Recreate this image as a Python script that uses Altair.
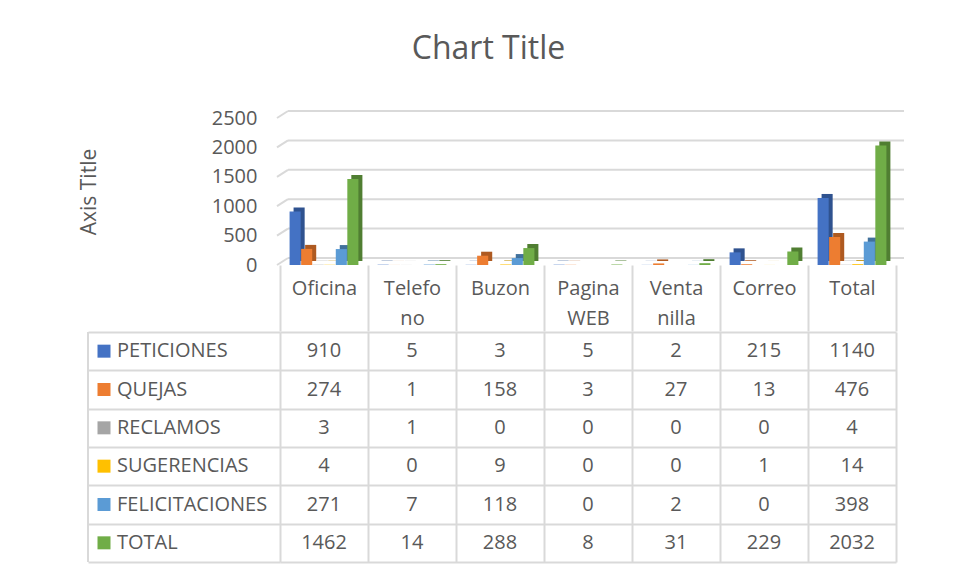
import altair as alt
import pandas as pd

categories = ["Oficina", "Telefo\nno", "Buzon", "Pagina\nWEB", "Venta\nnilla", "Correo", "Total"]
series = ["PETICIONES", "QUEJAS", "RECLAMOS", "SUGERENCIAS", "FELICITACIONES", "TOTAL"]
colors = ["#4472C4", "#ED7D31", "#A5A5A5", "#FFC000", "#5B9BD5", "#70AD47"]
side_colors = ["#2F528F", "#AE5A21", "#787878", "#BC8C00", "#41719C", "#507E32"]

peticiones = [910, 5, 3, 5, 2, 215, 1140]
quejas = [274, 1, 158, 3, 27, 13, 476]
reclamos = [3, 1, 0, 0, 0, 0, 4]
sugerencias = [4, 0, 9, 0, 0, 1, 14]
felicitaciones = [271, 7, 118, 0, 2, 0, 398]
total = [1462, 14, 288, 8, 31, 229, 2032]
y_ticks = [0, 500, 1000, 1500, 2000, 2500]

values = [peticiones, quejas, reclamos, sugerencias, felicitaciones, total]
rows = []
for s, vals in zip(series, values):
    for c, v in zip(categories, vals):
        rows.append({"series": s, "category": c, "value": v})
df = pd.DataFrame(rows)
grid_df = pd.DataFrame({"value": y_ticks})
hdr_df = pd.DataFrame({"series": series})

GRAY = "#595959"
LINE = "#d9d9d9"
W, H = 616, 147
TH = 230

xenc = alt.X(
    "category:N", sort=categories,
    scale=alt.Scale(paddingInner=0, paddingOuter=0),
    axis=alt.Axis(title=None, labelExpr="split(datum.label, '\\n')", labelAngle=0,
                  labelFontSize=20, labelColor=GRAY, labelLineHeight=30, labelPadding=-53,
                  tickBand="extent", tickSize=66, tickColor=LINE, tickWidth=2,
                  domain=False, grid=False),
)
xoff = alt.XOffset("series:N", sort=series,
                   scale=alt.Scale(paddingInner=0.04, paddingOuter=0.83))
xoff_side = alt.XOffset("series:N", sort=series,
                        scale=alt.Scale(paddingInner=0.04, paddingOuter=0.83, align=0.708))
yscale = alt.Scale(domain=[0, 2500])
yenc = alt.Y(
    "value:Q", scale=yscale,
    axis=alt.Axis(values=y_ticks, format="d", grid=False, ticks=False, tickSize=0, domain=False,
                  labelPadding=23, labelFontSize=20, labelColor=GRAY,
                  title="Axis Title", titleFontSize=21, titleFontWeight="normal",
                  titleColor=GRAY, titleX=-191, titleY=73.5, titleAngle=270,
                  titleAlign="center", titleBaseline="middle"),
)

back = alt.Chart(grid_df).mark_rule(color=LINE, strokeWidth=2, yOffset=-7, y2Offset=-7).encode(
    y=yenc, x=alt.value(8), x2=alt.value(W + 8)
)
slant = alt.Chart(grid_df).mark_rule(color=LINE, strokeWidth=2, yOffset=0, y2Offset=-7).encode(
    y=yenc, y2=alt.Y2("value:Q"), x=alt.value(-3), x2=alt.value(8)
)

shadow = alt.Chart(df).mark_bar(yOffset=-4, y2Offset=0).encode(
    x=xenc, xOffset=xoff_side, y=yenc,
    color=alt.Color("series:N", scale=alt.Scale(domain=series, range=side_colors), legend=None)
)
front = alt.Chart(df).mark_bar().encode(
    x=xenc, xOffset=xoff, y=yenc,
    color=alt.Color("series:N", scale=alt.Scale(domain=series, range=colors), legend=None)
)

bars = alt.layer(back, slant, shadow, front).resolve_scale(
    color="independent", xOffset="independent"
).properties(width=W, height=H)

tx = alt.X("category:N", sort=categories, scale=alt.Scale(paddingInner=0, paddingOuter=0),
           axis=alt.Axis(orient="top", title=None, labels=False, ticks=False, domain=False,
                         grid=True, gridColor=LINE, gridWidth=2, tickBand="extent"))
ty = alt.Y("series:N", sort=series, scale=alt.Scale(paddingInner=0, paddingOuter=0),
           axis=alt.Axis(title=None, labels=False, ticks=True, tickSize=192, tickColor=LINE,
                         tickWidth=2, domain=False, grid=True, gridColor=LINE, gridWidth=2,
                         tickBand="extent"))

cells = alt.Chart(df).mark_text(fontSize=20, color=GRAY).encode(
    x=tx, y=ty, text=alt.Text("value:Q", format="d")
)
keys = alt.Chart(hdr_df).mark_square(size=169, opacity=1, filled=True).encode(
    x=alt.value(-176), y=ty,
    color=alt.Color("series:N", scale=alt.Scale(domain=series, range=colors), legend=None)
)
names = alt.Chart(hdr_df).mark_text(align="left", fontSize=20, color=GRAY).encode(
    x=alt.value(-163), y=ty, text="series:N"
)
border = alt.Chart(hdr_df.head(1)).mark_rule(color=LINE, strokeWidth=2).encode(
    x=alt.value(-192), y=alt.value(0), y2=alt.value(TH)
)
table = alt.layer(cells, keys, names, border).properties(width=W, height=TH)

chart = alt.vconcat(bars, table, spacing=-7).properties(
    title=alt.TitleParams("Chart Title", fontSize=32, color=GRAY, fontWeight="normal",
                          anchor="middle", offset=42, dx=-3),
    padding={"left": 70, "top": 25, "right": 5, "bottom": 5},
).configure(font="Open Sans").configure_view(stroke=None)

chart.save("out.html", embed_options={"renderer": "svg", "actions": False})
